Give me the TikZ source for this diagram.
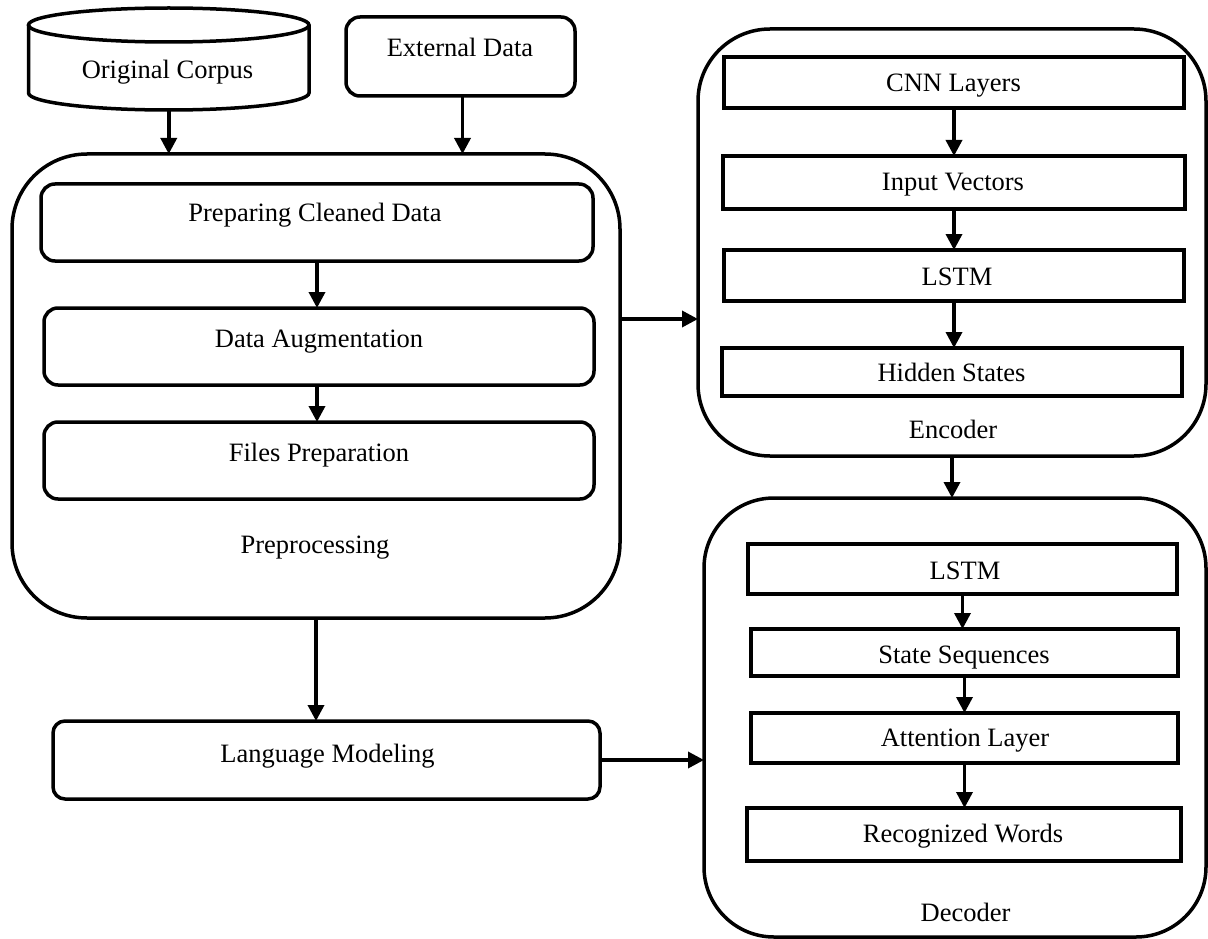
\documentclass[tikz,border=0pt]{standalone}
\usepackage{fontspec}
\setmainfont{Liberation Serif}
\usetikzlibrary{arrows.meta}
\tikzset{
  box/.style={draw=black, line width=3.5pt, inner sep=0pt, outer sep=0pt, fill=none},
  rbox/.style={box, rounded corners=14pt},
  bigbox/.style={box, rounded corners=72pt},
  lbl/.style={anchor=base, inner sep=0pt, font=\fontsize{26.5}{30}\selectfont},
  arr/.style={line width=3.5pt, -{Triangle[length=16pt,width=16pt]}},
  ghost/.style={inner sep=0pt, outer sep=0pt}
}
\begin{document}
\begin{tikzpicture}[x=1pt, y=-1pt]
\useasboundingbox (0,0) rectangle (1208,939);
% cylinder
\node[ghost, minimum width=280.5pt, minimum height=102pt] (cyl) at (168.75,59) {};
\draw[line width=3.5pt] (28.5,25) -- (28.5,93) arc[start angle=180, end angle=0, x radius=140.25, y radius=17] -- (309,25);
\draw[line width=3.5pt] (168.75,25) ellipse[x radius=140.25, y radius=17];
\node[lbl] (tcyl) at (167.5,79) {Original Corpus};
% external
\node[rbox, minimum width=229pt, minimum height=79pt] (ext) at (460.5,56.5) {};
\node[lbl] (text) at (460,56.7) {External Data};
% preprocessing
\node[bigbox, rounded corners=75pt, minimum width=608pt, minimum height=464pt] (pre) at (316,386) {};
\node[rbox, minimum width=552pt, minimum height=77pt] (prep) at (317,222.5) {};
\node[lbl] (tprep) at (315,222) {Preparing Cleaned Data};
\node[rbox, minimum width=550pt, minimum height=77pt] (aug) at (319,346.5) {};
\node[lbl] (taug) at (319,347.7) {Data Augmentation};
\node[rbox, minimum width=550pt, minimum height=77pt] (files) at (319,460.5) {};
\node[lbl] (tfiles) at (319,461.7) {Files Preparation};
\node[lbl] (tpre) at (315,553.3) {Preprocessing};
% language modeling
\node[rbox, rounded corners=12pt, minimum width=547pt, minimum height=78pt] (lm) at (326.5,760) {};
\node[lbl] (tlm) at (327.5,762) {Language Modeling};
% encoder
\node[bigbox, minimum width=508pt, minimum height=427pt] (enc) at (952,242.5) {};
\node[box, minimum width=460pt, minimum height=51pt] (cnn) at (954,82.5) {};
\node[lbl] (tcnn) at (953.5,91.7) {CNN Layers};
\node[box, minimum width=462pt, minimum height=53pt] (inp) at (954,182.5) {};
\node[lbl] (tinp) at (953,190.7) {Input Vectors};
\node[box, minimum width=460pt, minimum height=51pt] (elstm) at (954,275.5) {};
\node[lbl] (telstm) at (957,285.7) {LSTM};
\node[box, minimum width=460pt, minimum height=48pt] (hid) at (952,372) {};
\node[lbl] (thid) at (951.5,381.7) {Hidden States};
\node[lbl] (tenc) at (953,438.3) {Encoder};
% decoder
\node[bigbox, rounded corners=70pt, minimum width=502pt, minimum height=439pt] (dec) at (955,717.5) {};
\node[box, minimum width=429pt, minimum height=50pt] (dlstm) at (962.5,569) {};
\node[lbl] (tdlstm) at (965,579.3) {LSTM};
\node[box, minimum width=427pt, minimum height=47pt] (st) at (964.5,652.5) {};
\node[lbl] (tst) at (964,663.3) {State Sequences};
\node[box, minimum width=427pt, minimum height=50pt] (att) at (964.5,738) {};
\node[lbl] (tatt) at (965,746.7) {Attention Layer};
\node[box, minimum width=434pt, minimum height=53pt] (rec) at (964,834.5) {};
\node[lbl] (trec) at (963,842.3) {Recognized Words};
\node[lbl] (tdec) at (965.5,921) {Decoder};
% connectors
\coordinate (m1) at (0,319);
\coordinate (e1) at ([xshift=2pt]ext.south);
\draw[arr] (cyl.south) -- (pre.north -| cyl.south);
\draw[arr] (e1) -- (pre.north -| e1);
\draw[arr] (prep.south) -- (aug.north -| prep.south);
\draw[arr] (aug.south -| prep.south) -- (files.north -| prep.south);
\draw[arr] (pre.south) -- (lm.north -| pre.south);
\draw[arr] (pre.east |- m1) -- (enc.west |- m1);
\draw[arr] (lm.east) -- (lm.east -| dec.west);
\draw[arr] (enc.south) -- (dec.north -| enc.south);
\draw[arr] (cnn.south) -- (inp.north -| cnn.south);
\draw[arr] (inp.south) -- (elstm.north -| inp.south);
\draw[arr] (elstm.south) -- (hid.north -| elstm.south);
\draw[arr] (dlstm.south) -- (st.north -| dlstm.south);
\draw[arr] (st.south) -- (att.north -| st.south);
\draw[arr] (att.south) -- (rec.north -| att.south);
\end{tikzpicture}
\end{document}
